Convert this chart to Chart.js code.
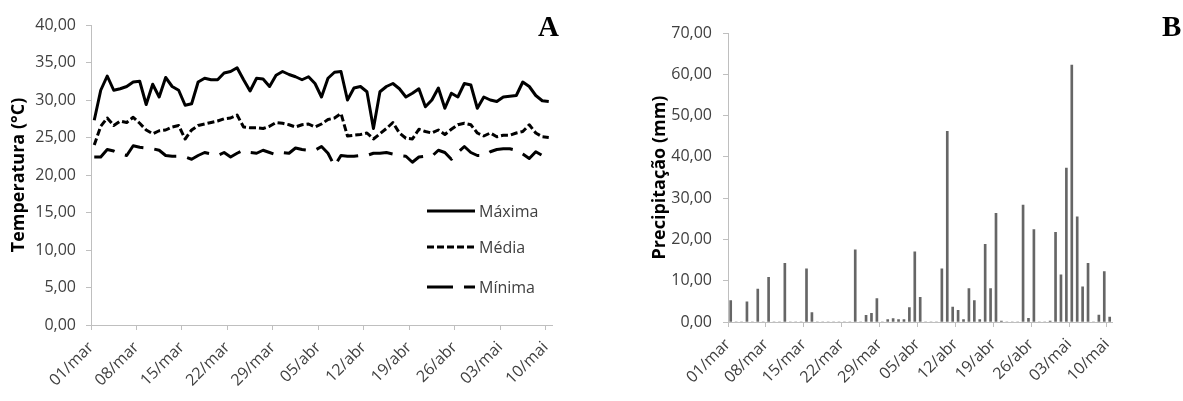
<!DOCTYPE html>
<html>
<head>
<meta charset="utf-8">
<script src="https://cdn.jsdelivr.net/npm/chart.js@4.4.1/dist/chart.umd.min.js"></script>
<style>
  html, body { margin: 0; padding: 0; background: #fff; }
  #wrap { position: relative; width: 1183px; height: 401px; overflow: hidden; background: #fff; }
  #cA { position: absolute; left: 0; top: 0; }
  #cB { position: absolute; left: 600px; top: 0; }
  .panel { position: absolute; font-family: "Liberation Serif", "Times New Roman", serif; font-weight: bold; font-size: 29px; line-height: 1; color: #000; }
</style>
</head>
<body>
<div id="wrap">
  <canvas id="cA" width="600" height="401"></canvas>
  <canvas id="cB" width="583" height="401"></canvas>
  <div class="panel" style="left:538px; top:12px;">A</div>
  <div class="panel" style="left:1162px; top:12px;">B</div>
</div>
<script>
// ---- data ----
const months = [["mar", 31], ["abr", 30], ["mai", 10]];
const dates = [];
for (const [m, n] of months) for (let d = 1; d <= n; d++) dates.push(String(d).padStart(2, "0") + "/" + m);

const tempMax = [27.3,31.3,33.2,31.3,31.5,31.8,32.4,32.5,29.4,32.1,30.4,33.0,31.8,31.3,29.3,29.5,32.4,32.9,32.7,32.7,
  33.6,33.8,34.3,32.7,31.2,32.9,32.8,31.8,33.3,33.8,33.4,33.1,32.7,33.1,32.2,30.4,32.9,33.7,33.8,30.0,
  31.6,31.8,31.1,26.2,31.1,31.8,32.2,31.5,30.4,30.9,31.5,29.1,30.0,31.6,28.9,30.9,30.4,32.2,32.0,28.9,
  30.4,30.0,29.8,30.4,30.5,30.6,32.4,31.8,30.6,29.9,29.8];
const tempMed = [24.0,26.5,27.6,26.6,27.2,27.0,27.7,26.9,26.0,25.5,25.9,26.0,26.4,26.6,24.8,26.0,26.6,26.8,27.0,27.2,
  27.5,27.6,28.0,26.4,26.3,26.3,26.2,26.5,27.0,26.9,26.7,26.4,26.7,26.8,26.4,26.8,27.4,27.6,28.2,25.2,
  25.3,25.4,25.6,24.8,25.5,26.2,27.0,25.6,24.9,24.8,26.1,25.8,25.6,26.0,25.4,26.1,26.7,26.9,26.7,25.6,
  25.2,25.6,25.1,25.3,25.3,25.6,25.8,26.7,25.6,25.1,25.0];
const tempMin = [22.4,22.4,23.4,23.2,22.8,22.6,23.9,23.7,23.6,23.5,23.3,22.6,22.5,22.5,22.4,22.1,22.6,23.0,22.8,22.6,
  23.0,22.4,22.9,23.3,23.0,22.9,23.3,23.0,22.7,23.0,22.9,23.6,23.4,23.3,23.3,23.8,22.9,21.2,22.6,22.5,
  22.5,22.6,22.6,22.9,22.9,23.0,22.8,22.6,22.5,21.7,22.4,22.5,22.5,23.3,23.0,22.1,23.0,23.8,23.0,22.6,
  22.6,23.1,23.4,23.5,23.5,23.3,22.8,22.2,23.1,22.6,23.3];
const precip = [5.2,0,0,4.9,0,8.0,0,10.8,0,0,14.2,0,0,0,12.9,2.3,0,0,0,0,
  0,0,0,17.5,0,1.6,2.1,5.7,0,0.6,0.8,0.6,0.6,3.5,17.0,6.0,0,0,0,12.9,
  46.2,3.6,2.8,0.6,8.1,5.2,0.6,18.8,8.1,26.3,0.2,0,0,0,28.3,0.9,22.4,0,0,0.2,
  21.7,11.4,37.3,62.2,25.5,8.5,14.2,0,1.7,12.2,1.2];
const seriesNames = ["Máxima", "Média", "Mínima"];
const tempTicks = [0, 40, 5];
const precipTicks = [0, 70, 10];

// ---- shared styling ----
const AXIS = "#bfbfbf";
const TXT = "#404040";
const FONT = "'Open Sans', sans-serif";
const fmt = v => Number(v).toFixed(2).replace(".", ",");
const every7 = (ctx) => (ctx.index % 7 === 0 ? AXIS : "rgba(0,0,0,0)");

function xScale(height, labelOffset) {
  return {
    type: "category",
    offset: true,
    grid: { offset: true, drawOnChartArea: false, drawTicks: true, tickLength: 5, color: every7, lineWidth: 1 },
    border: { display: true, color: AXIS, width: 1 },
    ticks: {
      autoSkip: false, minRotation: 45, maxRotation: 45, padding: 8, labelOffset: labelOffset,
      color: TXT, font: { family: FONT, size: 16 },
      callback: function (v, i) { return i % 7 === 0 ? this.getLabelForValue(v) : ""; }
    },
    afterFit: s => { s.height = height; }
  };
}
function yScale(width, range, title, titlePad, tickPad) {
  return {
    min: range[0], max: range[1],
    grid: { drawOnChartArea: false, drawTicks: true, tickLength: 5, color: AXIS },
    border: { display: true, color: AXIS, width: 1 },
    ticks: { stepSize: range[2], padding: tickPad, color: TXT, font: { family: FONT, size: 16 }, callback: v => fmt(v) },
    title: { display: true, text: title, color: "#000", font: { family: FONT, size: 18, weight: "bold" }, padding: { top: titlePad, bottom: 0 } },
    afterFit: s => { s.width = width; }
  };
}

// legend drawn inside panel A using each dataset's own line style
const sideLegend = {
  id: "sideLegend",
  afterDraw(chart) {
    const ctx = chart.ctx;
    const ys = [211, 247, 287];
    chart.data.datasets.forEach((ds, i) => {
      ctx.save();
      ctx.strokeStyle = ds.borderColor;
      ctx.lineWidth = ds.borderWidth;
      ctx.setLineDash(ds.legendDash || ds.borderDash || []);
      ctx.beginPath();
      ctx.moveTo(427, ys[i]);
      ctx.lineTo(475, ys[i]);
      ctx.stroke();
      ctx.setLineDash([]);
      ctx.fillStyle = TXT;
      ctx.font = "16px " + FONT;
      ctx.textBaseline = "middle";
      ctx.textAlign = "left";
      ctx.fillText(ds.label, 479, ys[i] + 1);
      ctx.restore();
    });
  }
};

const lineDs = (label, data, dash, legendDash) => ({
  label, data, borderColor: "#000", backgroundColor: "#000", borderWidth: 3,
  borderDash: dash, legendDash, pointRadius: 0, tension: 0, fill: false,
  borderCapStyle: "butt", borderJoinStyle: "round"
});

new Chart(document.getElementById("cA"), {
  type: "line",
  data: {
    labels: dates,
    datasets: [
      lineDs(seriesNames[0], tempMax, [], []),
      lineDs(seriesNames[1], tempMed, [7, 3], [7, 3]),
      lineDs(seriesNames[2], tempMin, [24, 11], [26, 11])
    ]
  },
  options: {
    responsive: false, devicePixelRatio: 1, animation: false,
    layout: { padding: { left: 0, right: 48, top: 25, bottom: 0 } },
    plugins: { legend: { display: false }, tooltip: { enabled: false } },
    scales: { x: xScale(76, -3.2), y: yScale(91, tempTicks, "Temperatura (°C)", 8, 10) }
  },
  plugins: [sideLegend]
});

new Chart(document.getElementById("cB"), {
  type: "bar",
  data: {
    labels: dates,
    datasets: [{ label: "Precipitação", data: precip, backgroundColor: "#666666", barThickness: 2, borderWidth: 0 }]
  },
  options: {
    responsive: false, devicePixelRatio: 1, animation: false,
    layout: { padding: { left: 0, right: 70.6, top: 33, bottom: 0 } },
    plugins: { legend: { display: false }, tooltip: { enabled: false } },
    scales: { x: xScale(79, -2.7), y: yScale(128, precipTicks, "Precipitação (mm)", 49, 11) }
  }
});
</script>
</body>
</html>
